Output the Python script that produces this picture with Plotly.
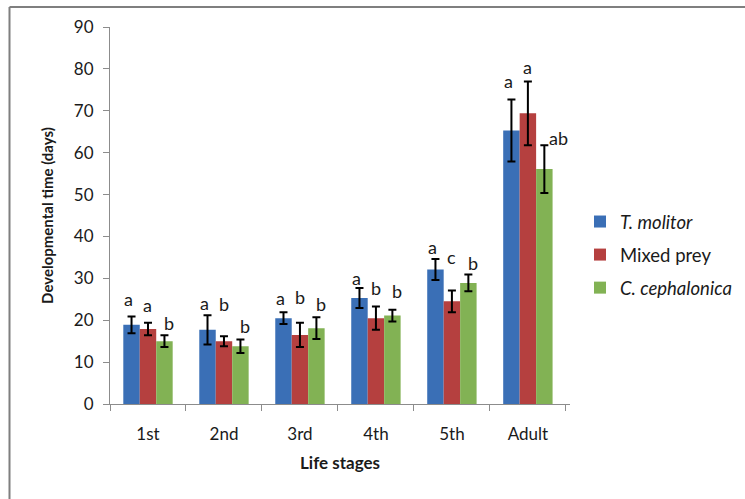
import plotly.graph_objects as go

stages = ["1st", "2nd", "3rd", "4th", "5th", "Adult"]
series_names = ["<i>T. molitor</i>", "Mixed prey", "<i>C. cephalonica</i>"]
molitor = [18.9, 17.7, 20.5, 25.3, 32.1, 65.3]
molitor_err = [2.0, 3.5, 1.4, 2.4, 2.5, 7.4]
mixed = [17.9, 15.0, 16.5, 20.5, 24.5, 69.4]
mixed_err = [1.5, 1.2, 2.9, 2.8, 2.6, 7.6]
ceph = [15.0, 13.8, 18.1, 21.1, 28.9, 56.1]
ceph_err = [1.4, 1.6, 2.6, 1.4, 2.0, 5.7]

letters_molitor = ["a", "a", "a", "a", "a", "a"]
letters_mixed = ["a", "b", "b", "b", "c", "a"]
letters_ceph = ["b", "b", "b", "b", "b", "ab"]
letter_y_molitor = [25.0, 24.0, 25.2, 30.2, 37.5, 77.2]
letter_y_mixed = [23.6, 23.8, 25.6, 27.6, 35.0, 80.4]
letter_y_ceph = [19.3, 18.6, 23.8, 27.0, 33.7, 63.4]

colors = ["#3A6FB6", "#B5403F", "#82B254"]
values = [molitor, mixed, ceph]
errors = [molitor_err, mixed_err, ceph_err]
letters = [letters_molitor, letters_mixed, letters_ceph]
letter_ys = [letter_y_molitor, letter_y_mixed, letter_y_ceph]

W, H = 745, 499
ml, mr, mt, mb = 110, 175, 27, 95
pw = W - ml - mr
ph = H - mt - mb

font = "Lato, 'Open Sans', sans-serif"
txtc = "#1a1a1a"

fig = go.Figure()
for i in range(3):
    fig.add_trace(go.Bar(
        x=stages, y=values[i], name=series_names[i],
        marker=dict(color=colors[i], line=dict(width=0)),
        error_y=dict(type="data", array=errors[i], color="black", thickness=2, width=4),
        legendgroup=str(i),
    ))

bar_px = pw / 6 * 0.65 / 3
shifts = [-bar_px - 3, 0, bar_px + 4]
annotations = []
for i in range(3):
    for j, st in enumerate(stages):
        txt = letters[i][j]
        xs = shifts[i]
        if len(txt) > 1:
            xs += 10
        annotations.append(dict(
            x=st, y=letter_ys[i][j], text=txt, showarrow=False,
            xref="x", yref="y", xshift=xs,
            font=dict(family=font, size=18, color=txtc),
        ))

# outer frame (left and top edges visible)
fx = (9.5 - ml) / pw
fy = (H - mb - 7) / ph
shapes = [
    dict(type="line", xref="paper", yref="paper", x0=fx, x1=fx, y0=-0.5, y1=fy,
         line=dict(color="#7f7f7f", width=2)),
    dict(type="line", xref="paper", yref="paper", x0=fx, x1=2, y0=fy, y1=fy,
         line=dict(color="#7f7f7f", width=2)),
]

fig.update_layout(
    width=W, height=H,
    margin=dict(l=ml, r=mr, t=mt, b=mb, autoexpand=False),
    paper_bgcolor="white", plot_bgcolor="white",
    barmode="group", bargap=0.35, bargroupgap=0,
    font=dict(family=font, size=17, color=txtc),
    showlegend=True,
    legend=dict(x=(580 - ml) / pw, y=(H - mb - 203) / ph, xanchor="left", yanchor="top",
                font=dict(family=font, size=18.5, color=txtc),
                tracegroupgap=6, itemwidth=30, bgcolor="rgba(0,0,0,0)"),
    annotations=annotations,
    shapes=shapes,
    xaxis=dict(
        showline=True, linecolor="#8c8c8c", linewidth=1,
        ticks="outside", ticklen=6, tickcolor="#8c8c8c", tickson="boundaries",
        ticklabelstandoff=15,
        tickfont=dict(family=font, size=17, color=txtc),
        title=dict(text="<b>Life stages</b>", standoff=13,
                   font=dict(family=font, size=17, color=txtc)),
        showgrid=False,
    ),
    yaxis=dict(
        range=[0, 90], dtick=10, showline=True, linecolor="#8c8c8c", linewidth=1,
        ticks="outside", ticklen=6, tickcolor="#8c8c8c",
        tickfont=dict(family=font, size=17, color=txtc),
        ticklabelstandoff=6,
        title=dict(text="<b>Developmental time (days)</b>", standoff=16,
                   font=dict(family=font, size=15, color=txtc)),
        showgrid=False, zeroline=False,
    ),
)

fig.write_html("out.html", config={"displayModeBar": False},
               post_script="document.body.style.margin='0px';document.body.style.overflow='hidden';")
